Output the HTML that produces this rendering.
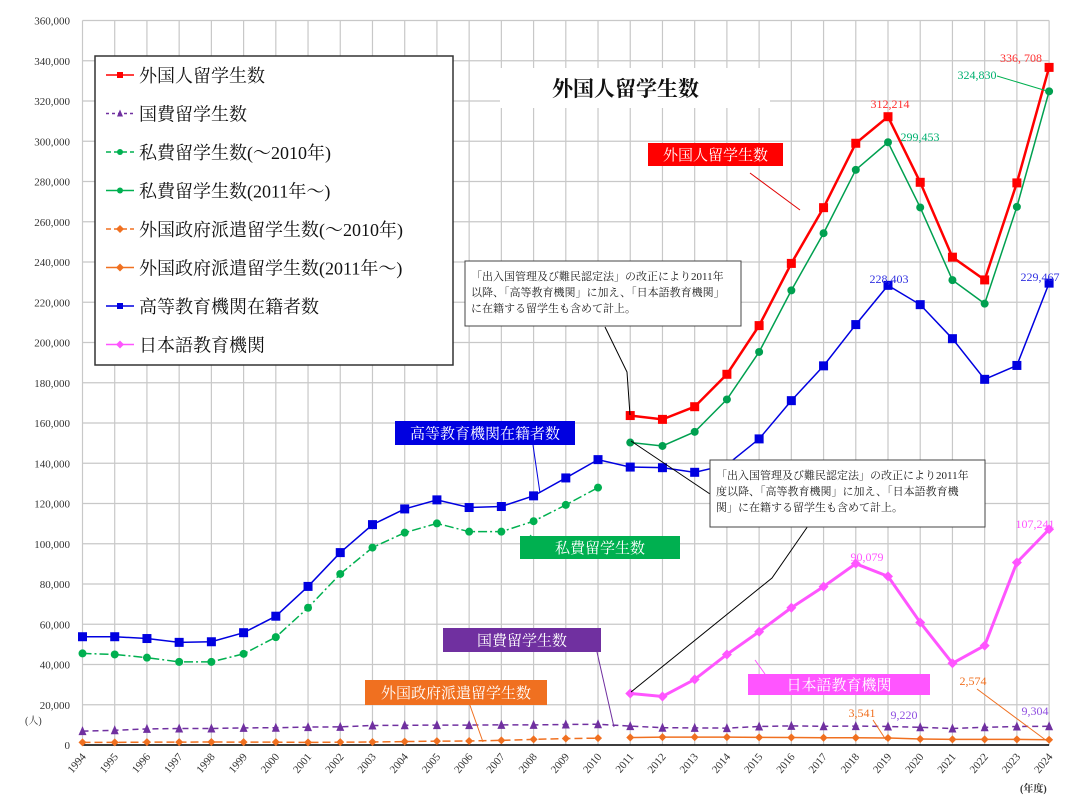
<!DOCTYPE html>
<html><head><meta charset="utf-8"><style>
body{margin:0;background:#fff;}
svg{display:block;font-family:"Liberation Serif","Noto Serif CJK SC",serif;}
</style></head><body>
<svg id="c" width="1080" height="805" viewBox="0 0 1080 805"></svg>
<script>
const years=[1994,1995,1996,1997,1998,1999,2000,2001,2002,2003,2004,2005,2006,2007,2008,2009,2010,2011,2012,2013,2014,2015,2016,2017,2018,2019,2020,2021,2022,2023,2024];
const yTicks=[0,20000,40000,60000,80000,100000,120000,140000,160000,180000,200000,220000,240000,260000,280000,300000,320000,340000,360000];
const totalNew=[163.7,161.8,168.1,184.2,208.4,239.3,267.0,299.0,312.2,279.6,242.4,231.1,279.3,336.7];
const higherEd=[53.8,53.8,52.9,51.0,51.3,55.8,64.0,78.8,95.6,109.5,117.3,121.8,118.0,118.5,123.8,132.7,141.8,138.1,137.8,135.5,139.2,152.1,171.1,188.4,208.9,228.4,218.8,201.9,181.7,188.6,229.5];
const privOld=[45.5,45.0,43.4,41.3,41.3,45.3,53.6,68.2,85.0,98.1,105.5,110.1,106.0,106.0,111.2,119.3,127.9];
const privNew=[150.3,148.6,155.6,171.7,195.3,225.9,254.3,285.8,299.5,267.1,231.0,219.3,267.4,324.8];
const govt=[6.9,7.3,8.0,8.2,8.2,8.5,8.6,8.9,9.0,9.7,9.8,9.9,9.9,10.0,10.0,10.2,10.3,9.4,8.6,8.5,8.4,9.2,9.5,9.3,9.4,9.2,8.8,8.2,8.8,9.2,9.3];
const forOld=[1.3,1.3,1.4,1.4,1.5,1.4,1.4,1.3,1.4,1.5,1.7,1.9,2.0,2.3,2.8,3.2,3.4];
const forNew=[3.7,3.9,3.9,3.9,3.8,3.7,3.6,3.6,3.5,3.0,2.8,2.8,2.8,2.6];
const jpLang=[25.6,24.1,32.6,45.0,56.3,68.2,78.7,90.1,83.8,60.9,40.6,49.4,90.7,107.2];

const svg=document.getElementById('c');const NS='http://www.w3.org/2000/svg';
const X0=82.5,DX=32.22,Y0=745,TOP=20.5;
const xs=i=>X0+i*DX;
const ys=v=>Y0-(v/360000)*(Y0-TOP);
function el(t,a,p){const e=document.createElementNS(NS,t);for(const k in a)e.setAttribute(k,a[k]);(p||svg).appendChild(e);return e;}
function txt(s,a,p){const e=el('text',a,p);e.textContent=s;return e;}
// grid
const g=el('g',{});
yTicks.forEach(v=>{el('line',{x1:X0,x2:xs(30),y1:ys(v),y2:ys(v),stroke:'#c8c8c8','stroke-width':1.2},g);
 const t=txt(v.toLocaleString('en-US'),{x:70,y:ys(v)+4,'text-anchor':'end','font-size':11,fill:'#333'});
 });
years.forEach((y,i)=>{el('line',{x1:xs(i),x2:xs(i),y1:TOP,y2:Y0,stroke:'#c8c8c8','stroke-width':1.2},g);
 const t=txt(String(y),{x:0,y:0,'font-size':11,fill:'#333','text-anchor':'end',transform:`translate(${xs(i)+4},${Y0+12}) rotate(-50)`});
 });
el('line',{x1:X0,x2:xs(30),y1:Y0,y2:Y0,stroke:'#000','stroke-width':1.5});
txt('(人)',{x:25,y:724,'font-size':10,fill:'#333'});
txt('(年度)',{x:1020,y:792,'font-size':10,fill:'#333','font-weight':'bold'});
// boxes
const tb=el('rect',{x:500,y:68,width:270,height:40,fill:'#fff'});
txt('外国人留学生数',{x:552,y:96,'font-size':21,'font-weight':'bold',fill:'#111'});
function marker(type,x,y,c,s,p){
 if(type==='sq')return el('rect',{x:x-s,y:y-s,width:2*s,height:2*s,fill:c},p);
 if(type==='ci')return el('circle',{cx:x,cy:y,r:s,fill:c},p);
 if(type==='tr')return el('polygon',{points:`${x},${y-s-1} ${x-s},${y+s} ${x+s},${y+s}`,fill:c},p);
 if(type==='di')return el('polygon',{points:`${x},${y-s-1} ${x+s+1},${y} ${x},${y+s+1} ${x-s-1},${y}`,fill:c},p);
}
function series(name,vals,off,c,w,dash,mk,ms){
 const gg=el('g',{});
 const pts=vals.map((v,i)=>[xs(i+off),ys(v*1000)]);
 const a={points:pts.map(p=>p.join(',')).join(' '),fill:'none',stroke:c,'stroke-width':w};if(dash)a['stroke-dasharray']=dash;
 el('polyline',a,gg);pts.forEach(p=>marker(mk,p[0],p[1],c,ms,gg));
}
series('foreign-gov-old',forOld,0,'#f07020',1.5,'8,4','di',3);
series('foreign-gov-new',forNew,17,'#f07020',1.5,null,'di',3);
series('govt-scholarship',govt,0,'#7030a0',1.5,'6,4','tr',4);
series('private-old',privOld,0,'#00b050',1.5,'9,3,2,3','ci',4);
series('private-new',privNew,17,'#00a050',1.5,null,'ci',4);
series('higher-education',higherEd,0,'#0000e0',1.5,null,'sq',4.5);
series('total-students',totalNew,17,'#ff0000',2.5,null,'sq',4.5);
series('japanese-language-schools',jpLang,17,'#ff55ff',3,null,'di',4);
// legend
const lg=el('g',{});
el('rect',{x:95,y:56,width:358,height:309,fill:'#fff',stroke:'#333','stroke-width':1.5},lg);
const L=[['外国人留学生数','#ff0000',null,'sq'],['国費留学生数','#7030a0','3,3','tr'],['私費留学生数(～2010年)','#00b050','5,3','ci'],['私費留学生数(2011年～)','#00b050',null,'ci'],['外国政府派遣留学生数(～2010年)','#f07020','5,3','di'],['外国政府派遣留学生数(2011年～)','#f07020',null,'di'],['高等教育機関在籍者数','#0000e0',null,'sq'],['日本語教育機関','#ff55ff',null,'di']];
L.forEach((l,i)=>{const y=75+i*38.5;const a={x1:106,x2:134,y1:y,y2:y,stroke:l[1],'stroke-width':1.5};if(l[2])a['stroke-dasharray']=l[2];
 el('line',a,lg);marker(l[3],120,y,l[1],3,lg);
 const t=txt(l[0],{x:139,y:y+7,'font-size':18,fill:'#111'},lg);});
// callouts
function lab(s,x,y,w,h,bg,fs){el('rect',{x,y,width:w,height:h,fill:bg});const t=txt(s,{x:x+w/2,y:y+h/2+fs*0.37,'text-anchor':'middle','font-size':fs,fill:'#fff'});}
function ln(x1,y1,x2,y2,c){el('line',{x1,y1,x2,y2,stroke:c,'stroke-width':1});}
ln(750,173,800,210,'#e00000');lab('外国人留学生数',648,143,135,23,'#ff0000',15);
ln(533,445,540,493,'#0000e0');lab('高等教育機関在籍者数',395,421,180,24,'#0000e0',15);
ln(530,535,545,548,'#00b050');lab('私費留学生数',520,536,160,23,'#00b050',15);
ln(597,652,614,727,'#7030a0');lab('国費留学生数',443,628,158,24,'#7030a0',15);
ln(467,697,483,742,'#f07020');lab('外国政府派遣留学生数',365,680,182,25,'#f07020',15);
ln(755,660,765,674,'#ff55ff');lab('日本語教育機関',748,674,182,21,'#ff55ff',15);
// note boxes
function note(lines,x,y,w,h){el('rect',{x,y,width:w,height:h,fill:'#fff',stroke:'#444','stroke-width':1});lines.forEach((s,i)=>{const t=txt(s,{x:x+6,y:y+19+i*16,'font-size':11,fill:'#222'});});}
el('polyline',{points:'605,327 627,372 630,415',fill:'none',stroke:'#000','stroke-width':1});
note(['「出入国管理及び難民認定法」の改正により2011年','以降、「高等教育機関」に加え、「日本語教育機関」','に在籍する留学生も含めて計上。'],465,261,276,65);
el('polyline',{points:'631,441 710,494',fill:'none',stroke:'#000','stroke-width':1});
el('polyline',{points:'808,526 772,578 631,692',fill:'none',stroke:'#000','stroke-width':1});
note(['「出入国管理及び難民認定法」の改正により2011年','度以降、「高等教育機関」に加え、「日本語教育機','関」に在籍する留学生も含めて計上。'],710,460,275,67);
// value labels
function vl(s,x,y,c){const t=txt(s,{x,y,'font-size':12,fill:c,'text-anchor':'middle'});}
vl('336, 708',1021,62,'#ff3030');vl('324,830',977,79,'#00b070');ln(997,76,1047,91,'#00b050');
vl('312,214',890,108,'#ff3030');vl('299,453',920,141,'#00b070');
vl('228,403',889,283,'#3030e0');vl('229,467',1040,281,'#3030e0');
vl('90,079',867,561,'#ff55ff');vl('107,241',1035,528,'#ff55ff');
vl('3,541',862,717,'#f07020');vl('9,220',904,719,'#9050e0');vl('2,574',973,685,'#f07020');vl('9,304',1035,715,'#9050e0');
ln(873,720,886,740,'#f07020');ln(977,689,1047,741,'#f07020');
</script>
</body></html>
